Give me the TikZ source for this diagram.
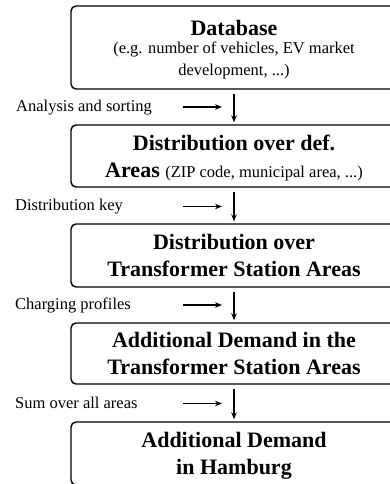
\documentclass[tikz,border=0pt]{standalone}
\usepackage{fontspec}
\setmainfont{Liberation Serif}
\usetikzlibrary{arrows.meta}
\newcommand{\headfont}{\fontsize{22}{27}\selectfont\bfseries}
\newcommand{\notefont}{\fontsize{16.5}{18}\selectfont}

\begin{document}
\begin{tikzpicture}[x=1pt, y=-1pt,
    box/.style={draw, line width=1.4pt, rounded corners=5pt, minimum width=326pt, align=center, inner sep=0pt, text depth=-11pt, font=\headfont},
    flow/.style={line width=1.4pt, -{Stealth[length=7pt, width=5.5pt]}},
    note/.style={anchor=base west, inner sep=0pt, font=\notefont}]
  \useasboundingbox (0,0) rectangle (390,484);
  \clip (0,0) rectangle (390,484);

  % Boxes
  \node[box, minimum height=83pt, text depth=-1pt] (db) at (234,47.5)
    {Database\\[-9pt] {\notefont\mdseries (e.g. number of vehicles, EV market}\\[-5pt] {\notefont\mdseries development, ...)}};
  \node[box, minimum height=62pt] (areas) at (234,156)
    {Distribution over def.\\ Areas {\notefont\mdseries (ZIP code, municipal area, ...)}};
  \node[box, minimum height=63pt] (tsa) at (234,255.5)
    {Distribution over\\ Transformer Station Areas};
  \node[box, minimum height=61pt] (demand) at (234,353.5)
    {Additional Demand in the\\ Transformer Station Areas};
  \node[box, minimum height=63pt] (hamburg) at (234,453.5)
    {Additional Demand\\ in Hamburg};

  % Vertical arrows
  \draw[flow, shorten <=4pt, shorten >=2pt] (db) -- (areas);
  \draw[flow, shorten <=4pt, shorten >=2pt] (areas) -- (tsa);
  \draw[flow, shorten <=4pt, shorten >=2pt] (tsa) -- (demand);
  \draw[flow, shorten <=4pt, shorten >=2pt] (demand) -- (hamburg);

  % Side labels
  \node[note] (l1) at (16,111) {Analysis and sorting};
  \node[note] (l2) at (15,210.5) {Distribution key};
  \node[note] (l3) at (15,309.5) {Charging profiles};
  \node[note] (l4) at (15,408.5) {Sum over all areas};

  \coordinate (s1) at (183,107);   \coordinate (e1) at (222,107);
  \coordinate (s2) at (183,206.5); \coordinate (e2) at (222,206.5);
  \coordinate (s3) at (183,305);   \coordinate (e3) at (222,305);
  \coordinate (s4) at (183,403.5); \coordinate (e4) at (222,403.5);
  \draw[flow] (s1) -- (e1);
  \draw[flow] (s2) -- (e2);
  \draw[flow] (s3) -- (e3);
  \draw[flow] (s4) -- (e4);
\end{tikzpicture}
\end{document}
